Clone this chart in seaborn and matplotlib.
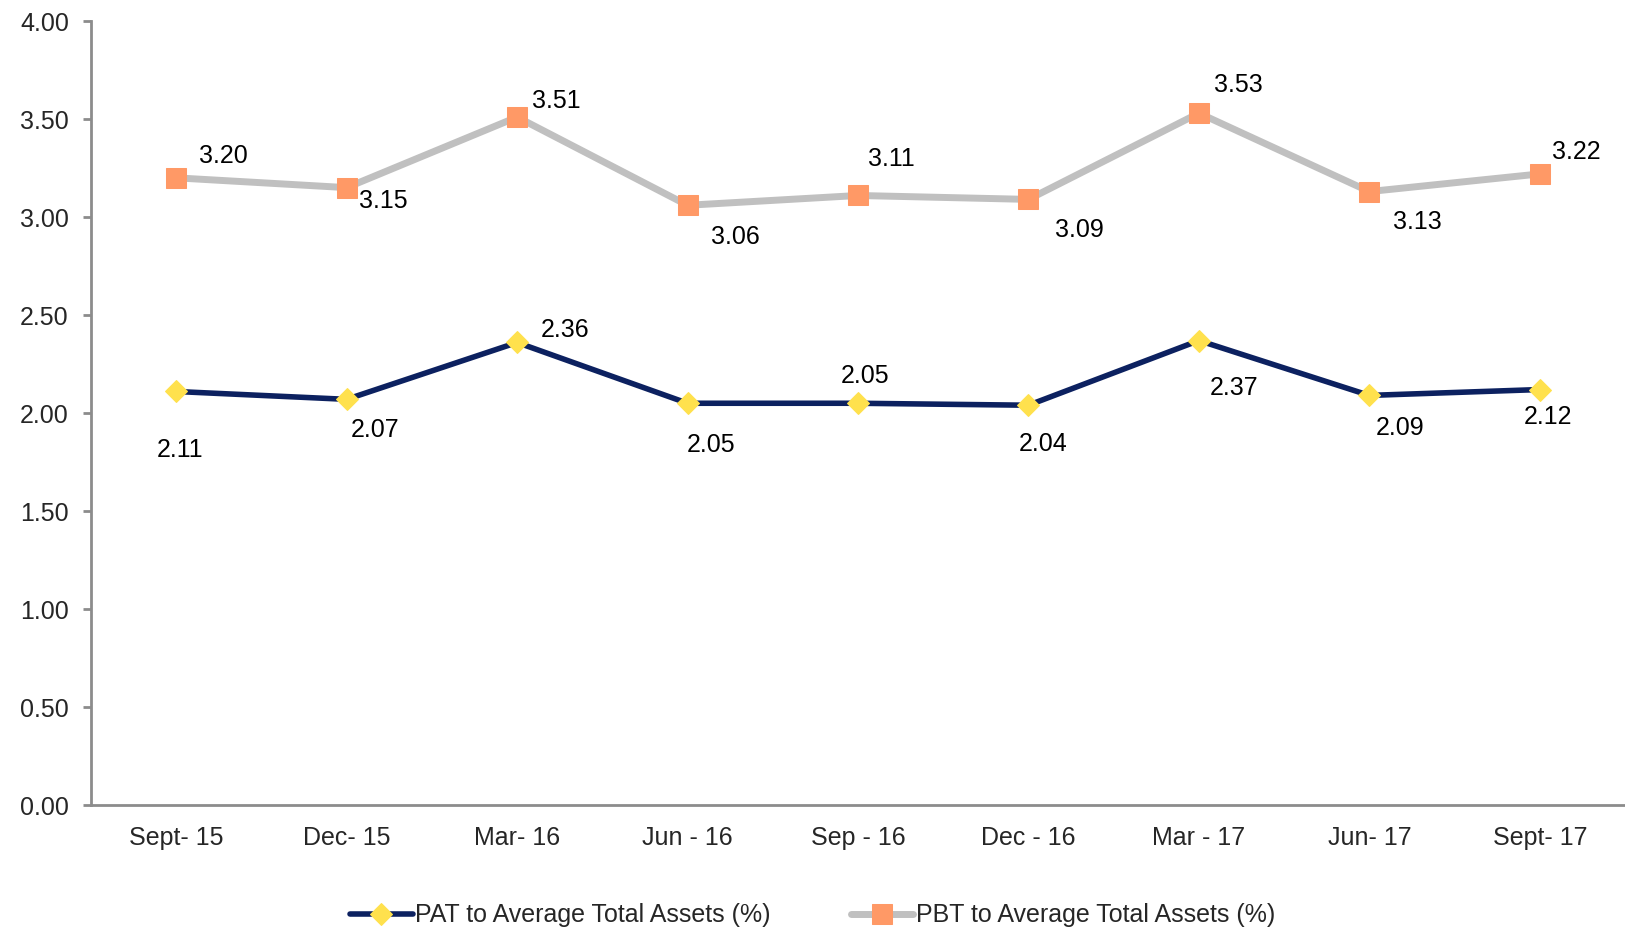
import numpy as np
import pandas as pd
import seaborn as sns
import matplotlib.pyplot as plt
from matplotlib.ticker import FixedLocator

# --- datos ---
periodos = ['Sept- 15', 'Dec- 15', 'Mar- 16', 'Jun - 16', 'Sep - 16',
            'Dec - 16', 'Mar - 17', 'Jun- 17', 'Sept- 17']
pat = [2.11, 2.07, 2.36, 2.05, 2.05, 2.04, 2.37, 2.09, 2.12]
pbt = [3.20, 3.15, 3.51, 3.06, 3.11, 3.09, 3.53, 3.13, 3.22]
nombre_pat = 'PAT to Average Total Assets (%)'
nombre_pbt = 'PBT to Average Total Assets (%)'

# desplazamiento de etiquetas (pixeles)
off_pbt = [(47, 22), (37, -13), (39, 16), (48, -32), (33, 36),
           (51, -31), (39, 28), (48, -30), (37, 22)]
off_pat = [(4, -59), (28, -31), (48, 12), (24, -42), (7, 27),
           (15, -39), (35, -47), (31, -33), (8, -27)]

sns.set_theme(style="white")
plt.rcParams['font.family'] = ['Liberation Sans', 'DejaVu Sans']
fs = 18

fig = plt.figure(figsize=(16.25, 9.34), dpi=100)
ax = fig.add_axes([0.056, 0.138, 0.944, 0.8395])

x = np.arange(len(periodos))
df = pd.DataFrame({'x': x, 'pat': pat, 'pbt': pbt})

sns.lineplot(data=df, x='x', y='pbt', ax=ax, color='#c0c0c0', linewidth=5,
             marker='s', markersize=14.5, markerfacecolor='#ff9966',
             markeredgecolor='#ff9966', label=nombre_pbt, zorder=3)
sns.lineplot(data=df, x='x', y='pat', ax=ax, color='#0c2160', linewidth=4,
             marker='D', markersize=11.5, markerfacecolor='#ffe14d',
             markeredgecolor='#ffe14d', label=nombre_pat, zorder=4)

for i in range(len(periodos)):
    ax.annotate(f'{pbt[i]:.2f}', (x[i], pbt[i]), xytext=off_pbt[i],
                textcoords='offset pixels', ha='center', va='center',
                fontsize=fs, color='black')
    ax.annotate(f'{pat[i]:.2f}', (x[i], pat[i]), xytext=off_pat[i],
                textcoords='offset pixels', ha='center', va='center',
                fontsize=fs, color='black')

ax.set_xlim(-0.5, len(periodos) - 0.5)
ax.set_ylim(0, 4)
ax.set_yticks(np.arange(0, 4.01, 0.5))
ax.set_yticklabels([f'{v:.2f}' for v in np.arange(0, 4.01, 0.5)], fontsize=fs)
ax.set_xticks(x)
ax.set_xticklabels(periodos, fontsize=fs)
ax.xaxis.set_minor_locator(FixedLocator(np.arange(-0.5, len(periodos), 1.0)))
ax.tick_params(axis='x', which='major', length=0, pad=15)
ax.tick_params(axis='x', which='minor', length=6, width=2, color='#8c8c8c', direction='out')
ax.tick_params(axis='y', length=6, width=2, color='#8c8c8c', direction='out', left=True, pad=10)
ax.set_xlabel('')
ax.set_ylabel('')

for s in ['top', 'right']:
    ax.spines[s].set_visible(False)
for s in ['left', 'bottom']:
    ax.spines[s].set_color('#8c8c8c')
    ax.spines[s].set_linewidth(2)

h, l = ax.get_legend_handles_labels()
orden = [l.index(nombre_pat), l.index(nombre_pbt)]
ax.legend([h[k] for k in orden], [l[k] for k in orden], loc='center',
          bbox_to_anchor=(0.5, 0.02), bbox_transform=fig.transFigure,
          ncol=2, frameon=False, fontsize=fs, handlelength=2.5,
          handletextpad=0.1, columnspacing=3.2)

plt.savefig('out.png', dpi=100)
